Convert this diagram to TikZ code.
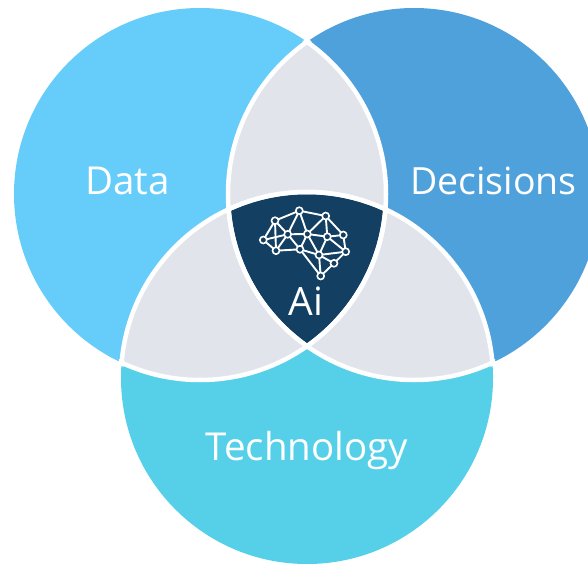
\documentclass[tikz,border=0pt]{standalone}
\usepackage{fontspec}
\setmainfont{Open Sans}
\definecolor{cdata}{HTML}{66CCF9}
\definecolor{cdec}{HTML}{4FA1DC}
\definecolor{ctech}{HTML}{55D0E8}
\definecolor{cgray}{HTML}{E1E4EA}
\definecolor{cdark}{HTML}{123F62}
\tikzset{
  lbl/.style={text=white,font=\fontsize{38.5}{42}\selectfont,inner sep=0pt},
  dot/.style={circle,draw=white,line width=1.6pt,fill=cdark,minimum size=7pt,inner sep=0pt},
  link/.style={draw=white,line width=1.9pt},
  ring/.style={draw=white,line width=4.5pt}
}
\begin{document}
\begin{tikzpicture}[x=1pt,y=1pt]
\useasboundingbox (0,0) rectangle (588,563);
\clip (0,0) rectangle (588,563);
\def\rr{186}
\def\rc{189}
\coordinate (A) at (200,369);
\coordinate (B) at (414,369);
\coordinate (C) at (307,185);
\fill[cdata] (A) circle (\rr);
\fill[cdec] (B) circle (\rr);
\fill[ctech] (C) circle (\rr);
\begin{scope}\clip (A) circle (\rr); \fill[cgray] (B) circle (\rr);\end{scope}
\begin{scope}\clip (A) circle (\rr); \fill[cgray] (C) circle (\rr);\end{scope}
\begin{scope}\clip (B) circle (\rr); \fill[cgray] (C) circle (\rr);\end{scope}
\begin{scope}\clip (A) circle (\rr); \clip (B) circle (\rr); \fill[cdark] (C) circle (\rr);\end{scope}
\begin{scope}\clip (B) circle (\rc); \draw[ring] (A) circle (\rr);\end{scope}
\begin{scope}\clip (C) circle (\rc); \draw[ring] (A) circle (\rr);\end{scope}
\begin{scope}\clip (A) circle (\rc); \draw[ring] (B) circle (\rr);\end{scope}
\begin{scope}\clip (C) circle (\rc); \draw[ring] (B) circle (\rr);\end{scope}
\begin{scope}\clip (A) circle (\rc); \draw[ring] (C) circle (\rr);\end{scope}
\begin{scope}\clip (B) circle (\rc); \draw[ring] (C) circle (\rr);\end{scope}
\node[lbl] (ldata) at (127.5,382) {Data};
\node[lbl,font=\fontsize{37.5}{42}\selectfont] (ldec) at (493.5,382) {Decisions};
\node[lbl] (ltech) at (307,113) {Technology};
\node[lbl,font=\fontsize{39}{42}\selectfont] (lai) at (306,261.5) {Ai};
% brain: positions from pixel coordinates
\foreach \n/\px/\py in {a/299.3/210.7,b/325.7/216,c/275/220.7,d/343.3/235,e/263.3/240,f/287.7/234.3,g/307.3/234,h/327.3/236.7,i/276/250.7,j/300/249.3,k/319/255,l/345.7/251.7,m/334/263.3,n/320.7/276}
  {\coordinate (\n) at (\px,563-\py);}
\foreach \s/\t in {a/b,a/c,a/f,a/g,b/d,b/g,b/h,c/e,c/f,d/h,d/l,e/f,e/i,f/g,f/i,f/j,g/h,g/j,g/k,h/k,h/l,i/j,j/k,j/n,k/l,k/m,k/n,l/m,m/n,c/i}
  {\draw[link] (\s) -- (\t);}
\foreach \n in {a,b,c,d,e,f,g,h,i,j,k,l,m,n}
  {\node[dot] (n\n) at (\n) {};}
\end{tikzpicture}
\end{document}
